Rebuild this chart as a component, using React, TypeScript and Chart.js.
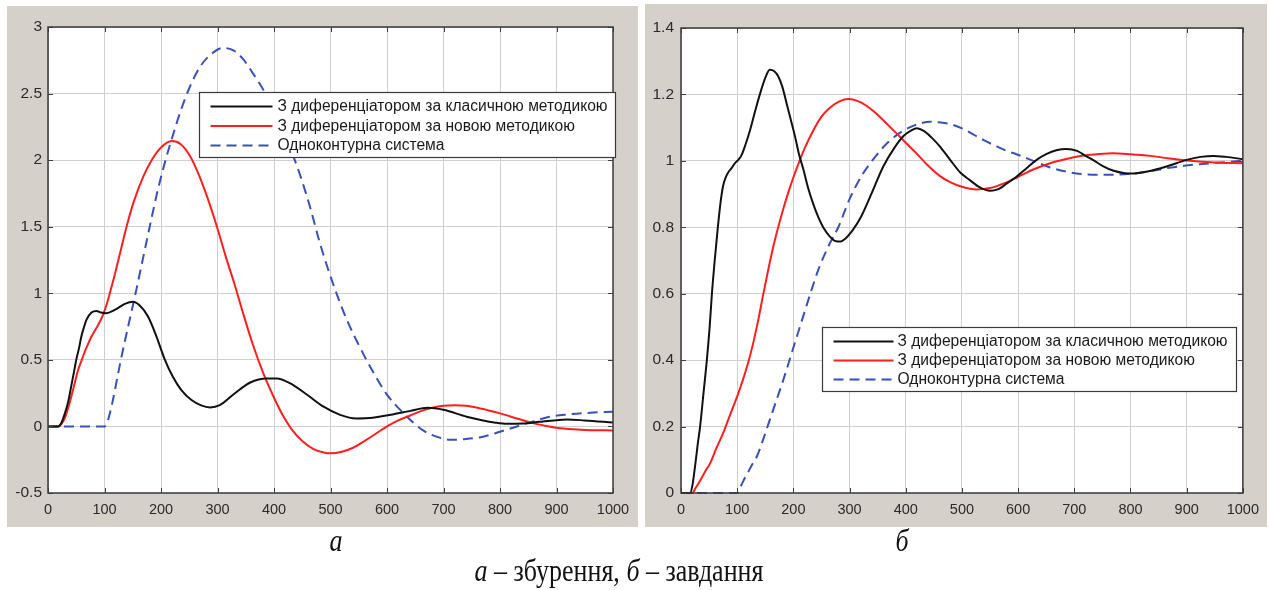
import React, { useEffect, useRef } from "react";
import { Chart, registerables } from "chart.js";

Chart.register(...registerables);

// ---------- Data: chart "а" (збурення) ----------
const aBlack: [number, number][] = [
  [0, 0], [18, 0], [24, 0.03], [30, 0.10], [36, 0.19], [41, 0.30], [46, 0.41], [50, 0.50], [55, 0.59], [59, 0.675],
  [64, 0.75], [68, 0.80], [77, 0.855], [86, 0.867], [94, 0.855], [103, 0.85], [118, 0.875], [136, 0.92], [150, 0.937], [162, 0.91],
  [177, 0.825], [192, 0.675], [206, 0.51], [221, 0.373], [236, 0.273], [254, 0.198], [271, 0.158], [287, 0.143], [304, 0.16], [328, 0.24],
  [358, 0.33], [387, 0.36], [405, 0.36], [428, 0.325], [458, 0.24], [487, 0.15], [517, 0.087], [546, 0.06], [575, 0.065], [610, 0.09],
  [640, 0.115], [672, 0.14], [700, 0.125], [741, 0.073], [770, 0.045], [790, 0.03], [812, 0.02], [840, 0.022], [870, 0.035], [900, 0.047],
  [918, 0.052], [950, 0.045], [1000, 0.03],
];
const aRed: [number, number][] = [
  [0, 0], [18, 0], [24, 0.02], [29.5, 0.06], [35, 0.13], [41, 0.22], [47, 0.32], [53, 0.42], [59, 0.49], [65, 0.56],
  [71, 0.62], [77, 0.675], [83, 0.72], [88.5, 0.76], [97, 0.835], [104, 0.92], [110, 1.01], [117, 1.12], [128, 1.31], [139, 1.50],
  [152, 1.69], [169, 1.88], [185, 2.01], [200, 2.095], [219, 2.143], [235, 2.12], [250, 2.04], [265, 1.91], [282, 1.72], [299, 1.50],
  [315, 1.27], [330, 1.07], [346, 0.84], [363, 0.61], [381, 0.40], [399, 0.225], [416, 0.08], [431, -0.02], [450, -0.11], [470, -0.17],
  [490, -0.198], [500, -0.202], [520, -0.19], [540, -0.16], [560, -0.11], [580, -0.055], [600, 0.0], [620, 0.045], [640, 0.08], [660, 0.115],
  [680, 0.14], [700, 0.155], [720, 0.16], [740, 0.155], [760, 0.14], [780, 0.12], [800, 0.098], [830, 0.06], [860, 0.023], [880, 0.005],
  [900, -0.01], [930, -0.022], [960, -0.028], [1000, -0.03],
];
const aBlue: [number, number][] = [
  [0, 0], [100, 0], [104, 0.02], [109, 0.09], [115, 0.2], [121, 0.33], [128, 0.48], [136, 0.64], [145, 0.81], [155, 1.0],
  [166, 1.22], [180, 1.5], [194, 1.77], [208, 2.0], [222, 2.2], [234, 2.36], [250, 2.54], [269, 2.70], [290, 2.80], [310, 2.843],
  [330, 2.82], [345, 2.76], [363, 2.65], [385, 2.50], [405, 2.33], [425, 2.13], [446, 1.89], [465, 1.63], [481, 1.38], [495, 1.19],
  [508, 1.03], [528, 0.81], [549, 0.62], [570, 0.45], [599, 0.245], [629, 0.10], [664, -0.03], [690, -0.08], [712, -0.10], [740, -0.095],
  [770, -0.077], [800, -0.04], [830, 0.0], [860, 0.04], [888, 0.073], [920, 0.09], [960, 0.103], [1000, 0.11],
];

// ---------- Data: chart "б" (завдання) ----------
const bBlack: [number, number][] = [
  [0, 0], [16, 0], [20, 0.02], [25, 0.08], [30, 0.15], [34, 0.2], [40, 0.30], [46, 0.40], [51, 0.50], [55, 0.60],
  [60, 0.70], [65, 0.79], [70, 0.87], [75, 0.925], [80, 0.952], [84, 0.965], [90, 0.978], [96, 0.993], [102, 1.003], [108, 1.018],
  [115, 1.05], [123, 1.093], [132, 1.15], [141, 1.204], [150, 1.25], [158, 1.274], [166, 1.27], [173, 1.255], [180, 1.225], [188, 1.173],
  [196, 1.12], [203, 1.073], [210, 1.02], [218, 0.973], [226, 0.92], [235, 0.872], [244, 0.832], [253, 0.80], [265, 0.772], [276, 0.758],
  [284, 0.757], [292, 0.765], [305, 0.79], [320, 0.83], [340, 0.905], [360, 0.983], [380, 1.04], [396, 1.075], [410, 1.092], [420, 1.098],
  [432, 1.09], [446, 1.07], [461, 1.043], [479, 1.003], [497, 0.965], [514, 0.942], [532, 0.92], [550, 0.91], [565, 0.915], [580, 0.932],
  [597, 0.952], [615, 0.978], [633, 1.003], [650, 1.02], [668, 1.032], [686, 1.036], [705, 1.03], [720, 1.015], [733, 1.003], [750, 0.985],
  [770, 0.97], [790, 0.963], [805, 0.962], [830, 0.968], [864, 0.983], [900, 1.003], [925, 1.012], [947, 1.015], [970, 1.012], [1000, 1.005],
];
const bRed: [number, number][] = [
  [0, 0], [20, 0], [26, 0.015], [35, 0.04], [43, 0.065], [52, 0.09], [63, 0.135], [75, 0.18], [84, 0.22], [93, 0.26],
  [102, 0.30], [111, 0.345], [120, 0.395], [129, 0.455], [138, 0.525], [146, 0.595], [155, 0.67], [164, 0.74], [173, 0.80], [182, 0.855],
  [191, 0.905], [200, 0.95], [211, 1.0], [222, 1.045], [235, 1.09], [250, 1.133], [265, 1.16], [282, 1.179], [298, 1.186], [315, 1.18],
  [330, 1.166], [345, 1.146], [360, 1.122], [375, 1.097], [390, 1.072], [405, 1.046], [420, 1.021], [440, 0.985], [461, 0.954], [479, 0.936],
  [500, 0.922], [526, 0.914], [550, 0.918], [575, 0.932], [600, 0.952], [627, 0.974], [657, 0.993], [690, 1.007], [716, 1.016], [745, 1.021],
  [769, 1.023], [800, 1.02], [835, 1.015], [870, 1.007], [906, 1.0], [950, 0.995], [1000, 0.993],
];
const bBlue: [number, number][] = [
  [0, 0], [100, 0], [105, 0.015], [112, 0.04], [120, 0.065], [128, 0.09], [135, 0.11], [146, 0.16], [158, 0.22], [170, 0.28],
  [182, 0.34], [194, 0.405], [206, 0.47], [219, 0.54], [232, 0.61], [245, 0.675], [263, 0.745], [280, 0.80], [300, 0.885], [324, 0.962],
  [340, 1.0], [354, 1.03], [370, 1.058], [390, 1.085], [410, 1.103], [425, 1.112], [443, 1.118], [460, 1.116], [479, 1.111], [500, 1.098],
  [520, 1.08], [538, 1.063], [560, 1.045], [580, 1.03], [597, 1.02], [627, 1.0], [657, 0.98], [690, 0.966], [716, 0.96], [740, 0.958],
  [763, 0.958], [790, 0.96], [811, 0.963], [840, 0.97], [864, 0.978], [895, 0.985], [923, 0.99], [960, 0.995], [1000, 1.0],
];

// ---------- Labels and ticks ----------
const seriesLabels = [
  "З диференціатором за класичною методикою",
  "З диференціатором за новою методикою",
  "Одноконтурна система",
];
const xTicks = [0, 100, 200, 300, 400, 500, 600, 700, 800, 900, 1000];
const aYTicks = [-0.5, 0, 0.5, 1, 1.5, 2, 2.5, 3];
const bYTicks = [0, 0.2, 0.4, 0.6, 0.8, 1, 1.2, 1.4];
const captionA = "а";
const captionB = "б";

// ---------- Styles ----------
const COLORS = ["#111111", "#ff1e1e", "#3a50b8"];
const DASHES: number[][] = [[], [], [10, 6]];
const PANEL_BG = "#d5d1ca";
const X_TICK_FONT = { family: "'Liberation Sans', Arial, sans-serif", size: 14.5 };
const Y_TICK_FONT = { family: "'Liberation Sans', Arial, sans-serif", size: 15.5 };
const LEGEND_FONT = "15.6px 'Liberation Sans', Arial, sans-serif";

const framePlugin = {
  id: "frame",
  beforeDraw(chart: any) {
    const { ctx, chartArea } = chart;
    ctx.save();
    ctx.fillStyle = "#ffffff";
    ctx.fillRect(chartArea.left, chartArea.top, chartArea.right - chartArea.left, chartArea.bottom - chartArea.top);
    ctx.restore();
  },
  afterDatasetsDraw(chart: any, _args: any, opts: any) {
    const { ctx, chartArea } = chart;
    const { left, top, right, bottom } = chartArea;
    const xs = chart.scales.x;
    const ys = chart.scales.y;
    ctx.save();
    ctx.setLineDash([]);
    ctx.strokeStyle = "#404040";
    ctx.lineWidth = 1;
    const tl = 5;
    xs.ticks.forEach((t: any) => {
      const px = Math.round(xs.getPixelForValue(t.value)) + 0.5;
      ctx.beginPath();
      ctx.moveTo(px, bottom);
      ctx.lineTo(px, bottom - tl);
      ctx.moveTo(px, top);
      ctx.lineTo(px, top + tl);
      ctx.stroke();
    });
    ys.ticks.forEach((t: any) => {
      const py = Math.round(ys.getPixelForValue(t.value)) + 0.5;
      ctx.beginPath();
      ctx.moveTo(left, py);
      ctx.lineTo(left + tl, py);
      ctx.moveTo(right, py);
      ctx.lineTo(right - tl, py);
      ctx.stroke();
    });
    ctx.lineWidth = 1.5;
    ctx.strokeStyle = "#3a3a3a";
    ctx.strokeRect(left, top, right - left, bottom - top);

    // legend box
    const lg = opts.legend;
    const bx = Math.round(left + lg.dx) + 0.5;
    const by = Math.round(top + lg.dy) + 0.5;
    ctx.fillStyle = "#ffffff";
    ctx.fillRect(bx, by, lg.w, lg.h);
    ctx.lineWidth = 1.2;
    ctx.strokeStyle = "#3a3a3a";
    ctx.strokeRect(bx, by, lg.w, lg.h);
    chart.data.datasets.forEach((ds: any, i: number) => {
      const ry = by + lg.row0 + i * lg.rowGap;
      ctx.beginPath();
      ctx.setLineDash(ds.borderDash || []);
      ctx.strokeStyle = ds.borderColor;
      ctx.lineWidth = ds.borderWidth;
      ctx.moveTo(bx + lg.s0, ry);
      ctx.lineTo(bx + lg.s1, ry);
      ctx.stroke();
      ctx.setLineDash([]);
      ctx.fillStyle = "#1a1a1a";
      ctx.font = LEGEND_FONT;
      ctx.textBaseline = "middle";
      ctx.textAlign = "left";
      ctx.fillText(ds.label, bx + lg.tx, ry + 0.5);
    });
    ctx.restore();
  },
};

function makeConfig(series: [number, number][][], yTicks: number[], layout: any) {
  return {
    type: "line" as const,
    data: {
      datasets: series.map((s, i) => ({
        label: seriesLabels[i],
        data: s.map(([x, y]) => ({ x, y })),
        borderColor: COLORS[i],
        borderWidth: 2,
        borderDash: DASHES[i],
        pointRadius: 0,
        fill: false,
        cubicInterpolationMode: "monotone" as const,
        clip: 4,
      })),
    },
    options: {
      responsive: false,
      animation: false as const,
      devicePixelRatio: 1,
      layout: { padding: { left: 0, top: layout.padTop, right: layout.padRight, bottom: 0 } },
      plugins: {
        legend: { display: false },
        tooltip: { enabled: false },
        frame: { legend: layout.legend },
      },
      scales: {
        x: {
          type: "linear" as const,
          min: xTicks[0],
          max: xTicks[xTicks.length - 1],
          afterBuildTicks: (sc: any) => {
            sc.ticks = xTicks.map((v) => ({ value: v }));
          },
          afterFit: (sc: any) => {
            sc.height = layout.xHeight;
          },
          ticks: {
            autoSkip: false,
            maxRotation: 0,
            padding: 8,
            color: "#2a2a2a",
            font: X_TICK_FONT,
            callback: (v: any) => String(v),
          },
          grid: { color: "#cfcfcf", lineWidth: 1, drawTicks: false },
          border: { display: false },
        },
        y: {
          type: "linear" as const,
          min: yTicks[0],
          max: yTicks[yTicks.length - 1],
          afterBuildTicks: (sc: any) => {
            sc.ticks = yTicks.map((v) => ({ value: v }));
          },
          afterFit: (sc: any) => {
            sc.width = layout.yWidth;
          },
          ticks: {
            autoSkip: false,
            padding: layout.yPad,
            color: "#2a2a2a",
            font: Y_TICK_FONT,
            callback: (v: any) => String(Math.round(v * 10) / 10),
          },
          grid: { color: "#cfcfcf", lineWidth: 1, drawTicks: false },
          border: { display: false },
        },
      },
    },
    plugins: [framePlugin],
  };
}

function Plot({ w, h, config }: { w: number; h: number; config: any }) {
  const ref = useRef<HTMLCanvasElement>(null);
  useEffect(() => {
    const chart = new Chart(ref.current as HTMLCanvasElement, config);
    return () => chart.destroy();
  }, []);
  return <canvas ref={ref} width={w} height={h} style={{ display: "block", width: w, height: h }} />;
}

const configA = makeConfig([aBlack, aRed, aBlue], aYTicks, {
  padTop: 21,
  padRight: 25,
  yWidth: 41,
  xHeight: 34,
  yPad: 6,
  legend: { dx: 151, dy: 65, w: 416, h: 65, row0: 14, rowGap: 19.5, s0: 11, s1: 73, tx: 78 },
});
const configB = makeConfig([bBlack, bRed, bBlue], bYTicks, {
  padTop: 24,
  padRight: 24,
  yWidth: 36,
  xHeight: 34,
  yPad: 7,
  legend: { dx: 141, dy: 299, w: 414, h: 64, row0: 14, rowGap: 19, s0: 11, s1: 71, tx: 75 },
});

const serif = "'Liberation Serif', 'Times New Roman', serif";
const captionStyle: React.CSSProperties = {
  position: "absolute",
  textAlign: "center",
  fontFamily: serif,
  fontSize: 26,
  lineHeight: "26px",
  color: "#111",
  whiteSpace: "nowrap",
  transform: "scaleY(1.22)",
  transformOrigin: "50% 22px",
};

export default function App() {
  return (
    <div style={{ position: "fixed", left: 0, top: 0, width: 1269, height: 590, background: "#ffffff", overflow: "hidden" }}>
      <div style={{ position: "absolute", left: 7, top: 6, width: 631, height: 521, background: PANEL_BG }}>
        <Plot w={631} h={521} config={configA} />
      </div>
      <div style={{ position: "absolute", left: 645, top: 4, width: 622, height: 523, background: PANEL_BG }}>
        <Plot w={622} h={523} config={configB} />
      </div>
      <div style={{ ...captionStyle, left: 286, top: 530, width: 100, fontStyle: "italic" }}>{captionA}</div>
      <div style={{ ...captionStyle, left: 852, top: 530, width: 100, fontStyle: "italic" }}>{captionB}</div>
      <div style={{ ...captionStyle, left: 319, top: 560, width: 600 }}>
        <i>а</i> – збурення, <i>б</i> – завдання
      </div>
    </div>
  );
}
